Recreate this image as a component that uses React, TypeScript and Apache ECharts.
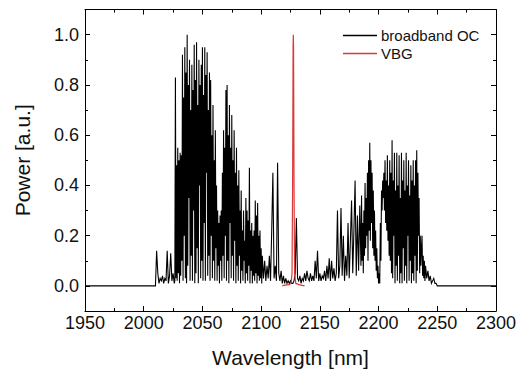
import React, { useEffect, useRef } from "react";
import * as echarts from "echarts";

// Broadband OC spectrum in segments (sample grid: start nm, step nm)
const onsetStart = 2010, onsetStep = 1;
const onsetPower = [0.0, 0.14, 0.05, 0.01, 0.03, 0.02, 0.04, 0.01, 0.03, 0.02, 0.14, 0.01, 0.04, 0.13, 0.02, 0.05, 0.01];

const lobe1Start = 2026.5, lobe1Step = 0.5;
const lobe1Power = [
  0.02, 0.83, 0.03, 0.48, 0.02, 0.55, 0.05, 0.5, 0.01, 0.53,
  0.04, 0.52, 0.1, 0.92, 0.02, 0.75, 0.2, 0.95, 0.03, 0.85,
  0.01, 1.0, 0.08, 0.8, 0.35, 0.9, 0.02, 0.7, 0.12, 0.88,
  0.02, 0.78, 0.3, 0.96, 0.01, 0.82, 0.05, 0.97, 0.15, 0.72,
  0.01, 0.9, 0.4, 0.8, 0.03, 0.88, 0.1, 0.95, 0.02, 0.76,
  0.25, 0.95, 0.02, 0.84, 0.45, 0.93, 0.04, 0.7, 0.12, 0.85,
  0.02, 0.82, 0.2, 0.6, 0.03, 0.72, 0.1, 0.5, 0.02, 0.62,
  0.15, 0.4, 0.02, 0.3, 0.08, 0.25, 0.01, 0.28, 0.1, 0.3,
  0.02, 0.45, 0.12, 0.62, 0.03, 0.55, 0.2, 0.78, 0.02, 0.8,
  0.1, 0.6, 0.01, 0.72, 0.25, 0.55, 0.03, 0.68, 0.12, 0.5,
  0.02, 0.62, 0.18, 0.45, 0.01, 0.55, 0.08, 0.4, 0.02, 0.46,
  0.12, 0.3, 0.01, 0.38, 0.06, 0.22, 0.02, 0.3, 0.1, 0.18,
  0.01, 0.35, 0.05, 0.3, 0.02, 0.26, 0.08, 0.47, 0.01, 0.22,
  0.06, 0.25, 0.01, 0.2, 0.04, 0.22, 0.02, 0.34, 0.05, 0.28,
  0.01, 0.33, 0.04, 0.2, 0.02, 0.22, 0.03, 0.15, 0.01, 0.12,
];

const middleStart = 2102, middleStep = 1;
const middlePower = [
  0.03, 0.1, 0.02, 0.08, 0.03, 0.12, 0.02, 0.22, 0.45, 0.03,
  0.08, 0.02, 0.49, 0.05, 0.02, 0.06, 0.01, 0.04, 0.01, 0.03,
  0.01, 0.02, 0.01, 0.02, 0.01, 0.01, 0.02, 0.05, 0.27, 0.03,
  0.02, 0.04, 0.01, 0.03, 0.02, 0.05, 0.02, 0.06, 0.03, 0.02,
  0.05, 0.02, 0.04, 0.02, 0.1, 0.03, 0.14, 0.02, 0.05, 0.02,
  0.04, 0.03, 0.06, 0.02, 0.08, 0.03, 0.11, 0.02, 0.1, 0.03,
  0.07, 0.02, 0.05, 0.3, 0.03, 0.08, 0.31, 0.04, 0.2, 0.02,
  0.12, 0.04, 0.25, 0.03, 0.18, 0.34, 0.05, 0.22, 0.42, 0.04,
  0.28, 0.06, 0.32, 0.08,
];

const lobe2Start = 2185.5, lobe2Step = 0.5;
const lobe2Power = [
  0.36, 0.1, 0.25, 0.05, 0.3, 0.12, 0.41, 0.15, 0.35, 0.2,
  0.45, 0.1, 0.5, 0.22, 0.57, 0.18, 0.5, 0.25, 0.45, 0.15,
  0.38, 0.12, 0.3, 0.1, 0.22, 0.06, 0.15, 0.03, 0.08, 0.01,
  0.05, 0.01, 0.25, 0.1, 0.38, 0.3, 0.42, 0.35, 0.45, 0.3,
  0.5, 0.25, 0.42, 0.22, 0.52, 0.18, 0.4, 0.12, 0.5, 0.1,
  0.45, 0.05, 0.58, 0.03, 0.42, 0.2, 0.53, 0.01, 0.38, 0.08,
  0.53, 0.02, 0.4, 0.12, 0.52, 0.01, 0.35, 0.05, 0.53, 0.01,
  0.42, 0.15, 0.5, 0.02, 0.38, 0.08, 0.53, 0.01, 0.4, 0.2,
  0.5, 0.02, 0.36, 0.1, 0.48, 0.01, 0.42, 0.05, 0.5, 0.02,
  0.4, 0.12, 0.5, 0.01, 0.54, 0.06, 0.45, 0.2, 0.35, 0.05,
  0.2, 0.08, 0.15, 0.2, 0.04, 0.12, 0.03, 0.1, 0.02, 0.08,
];

const tailStart = 2241, tailStep = 1;
const tailPower = [0.03, 0.06, 0.02, 0.04, 0.01, 0.02, 0.03, 0.01, 0.01, 0.0];

const baselineWavelengths = [1950, 2300];

// VBG spectrum (narrow line near 2127.4 nm)
const vbgWavelength = [2118, 2120, 2124, 2125.5, 2126.3, 2126.8, 2127.2, 2127.4, 2127.6, 2128.0, 2128.5, 2129.5, 2132, 2137];
const vbgPower = [0, 0.003, 0.005, 0.01, 0.05, 0.4, 0.95, 1.0, 0.95, 0.4, 0.05, 0.01, 0.005, 0];

const seriesNames = ["broadband OC", "VBG"];
const yMajorTicks = [0, 0.2, 0.4, 0.6, 0.8, 1.0];
const yMinorTicks = [0.1, 0.3, 0.5, 0.7, 0.9];

const FONT = 'Arial, "Liberation Sans", sans-serif';

export default function App() {
  const ref = useRef<HTMLDivElement>(null);

  useEffect(() => {
    if (!ref.current) return;
    const chart = echarts.init(ref.current, undefined, { renderer: "svg" });

    const segments: [number, number, number[]][] = [
      [onsetStart, onsetStep, onsetPower],
      [lobe1Start, lobe1Step, lobe1Power],
      [middleStart, middleStep, middlePower],
      [lobe2Start, lobe2Step, lobe2Power],
      [tailStart, tailStep, tailPower],
    ];
    const broadbandData: [number, number][] = [[baselineWavelengths[0], 0]];
    segments.forEach(([start, step, vals]) => {
      vals.forEach((v, i) => broadbandData.push([start + i * step, v]));
    });
    broadbandData.push([baselineWavelengths[1], 0]);
    const vbgData = vbgWavelength.map((w, i) => [w, vbgPower[i]]);

    const axisLineStyle = { color: "#000", width: 1 };
    const xBase = (pos: "bottom" | "top", labels: boolean) => ({
      type: "value",
      position: pos,
      min: 1950,
      max: 2300,
      interval: 50,
      axisLine: { show: true, onZero: false, lineStyle: axisLineStyle },
      axisTick: { show: true, inside: true, length: 5, lineStyle: axisLineStyle },
      minorTick: { show: true, splitNumber: 2, length: 3, lineStyle: axisLineStyle },
      splitLine: { show: false },
      axisLabel: labels
        ? { show: true, fontSize: 18, color: "#111", fontFamily: FONT, margin: 3, formatter: (v: number) => String(v) }
        : { show: false },
      ...(labels
        ? {
            name: "Wavelength [nm]",
            nameLocation: "middle",
            nameGap: 36,
            nameTextStyle: { fontSize: 21, color: "#111", fontFamily: FONT },
          }
        : {}),
    });
    const yBase = (pos: "left" | "right", major: boolean, labels: boolean) => ({
      type: "value",
      position: pos,
      min: -0.1,
      max: 1.1,
      axisLine: { show: major, onZero: false, lineStyle: axisLineStyle },
      axisTick: {
        show: true,
        inside: true,
        length: major ? 5 : 3,
        customValues: major ? yMajorTicks : yMinorTicks,
        lineStyle: axisLineStyle,
      },
      splitLine: { show: false },
      axisLabel: labels
        ? {
            show: true,
            customValues: yMajorTicks,
            fontSize: 18,
            color: "#111",
            fontFamily: FONT,
            margin: 6,
            formatter: (v: number) => v.toFixed(1),
          }
        : { show: false },
      ...(labels
        ? {
            name: "Power [a.u.]",
            nameLocation: "middle",
            nameGap: 52,
            nameTextStyle: { fontSize: 21, color: "#111", fontFamily: FONT },
          }
        : {}),
    });

    chart.setOption({
      animation: false,
      backgroundColor: "#fff",
      grid: { left: 85, right: 22, top: 9.6, bottom: 66, containLabel: false, outerBoundsMode: "none" },
      legend: {
        data: seriesNames,
        orient: "vertical",
        left: 338,
        top: 23,
        padding: 5,
        itemWidth: 34,
        itemHeight: 1.5,
        itemGap: 3,
        icon: "rect",
        textStyle: { fontSize: 15, color: "#111", fontFamily: FONT, lineHeight: 15, padding: [0, 0, 0, -1] },
      },
      xAxis: [xBase("bottom", true), xBase("top", false)],
      yAxis: [
        yBase("left", true, true),
        yBase("left", false, false),
        yBase("right", true, false),
        yBase("right", false, false),
      ],
      series: [
        {
          name: seriesNames[0],
          type: "line",
          xAxisIndex: 0,
          yAxisIndex: 0,
          data: broadbandData,
          showSymbol: false,
          symbol: "none",
          color: "#000",
          lineStyle: { color: "#000", width: 1.1, join: "miter" },
        },
        {
          name: seriesNames[1],
          type: "line",
          xAxisIndex: 0,
          yAxisIndex: 0,
          data: vbgData,
          showSymbol: false,
          symbol: "none",
          color: "#d93a3a",
          lineStyle: { color: "#d93a3a", width: 1.2 },
        },
      ],
    });

    return () => chart.dispose();
  }, []);

  return (
    <div
      ref={ref}
      style={{ position: "fixed", left: 0, top: 0, width: 518, height: 377, background: "#fff" }}
    />
  );
}
